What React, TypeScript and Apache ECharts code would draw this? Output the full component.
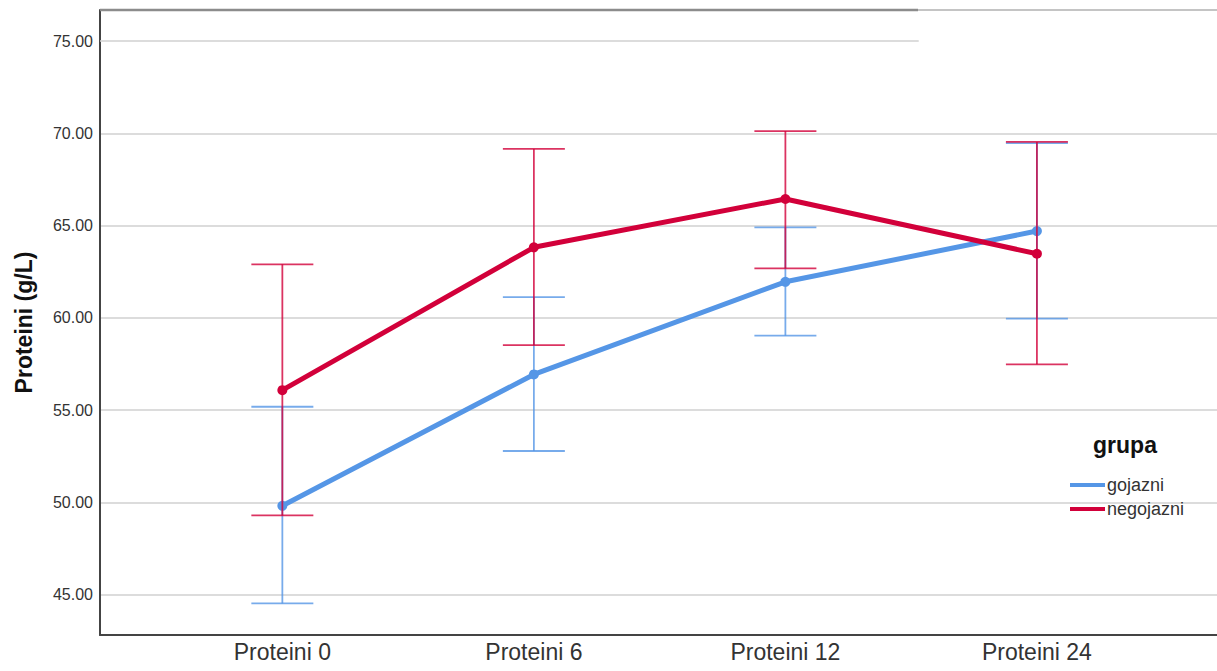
import React, { useEffect, useRef } from "react";
import * as echarts from "echarts";

const categories = ["Proteini 0", "Proteini 6", "Proteini 12", "Proteini 24"];
const yTicks = [45, 50, 55, 60, 65, 70, 75];
const seriesNames = ["gojazni", "negojazni"];

const gojazniMean = [49.81, 56.93, 61.95, 64.7];
const gojazniLow = [44.52, 52.78, 59.03, 59.95];
const gojazniHigh = [55.18, 61.12, 64.9, 69.47];

const negojazniMean = [56.08, 63.82, 66.44, 63.47];
const negojazniLow = [49.29, 58.52, 62.68, 57.48];
const negojazniHigh = [62.9, 69.15, 70.12, 69.53];

const BLUE = "#5596e6";
const RED = "#d2003a";
const FONT = "'Liberation Sans', Arial, sans-serif";

function errorSeries(name: string, low: number[], high: number[], color: string, z: number) {
  return {
    type: "custom",
    name,
    z,
    silent: true,
    data: low.map((l, i) => [i, l, high[i]]),
    encode: { x: 0, y: [1, 2] },
    renderItem: (params: any, api: any) => {
      const x = api.value(0);
      const lo = api.coord([x, api.value(1)]);
      const hi = api.coord([x, api.value(2)]);
      const hw = 31;
      const style = { stroke: color, lineWidth: 1.8, opacity: 0.8 };
      return {
        type: "group",
        children: [
          { type: "line", shape: { x1: lo[0], y1: lo[1], x2: hi[0], y2: hi[1] }, style },
          { type: "line", shape: { x1: hi[0] - hw, y1: hi[1], x2: hi[0] + hw, y2: hi[1] }, style },
          { type: "line", shape: { x1: lo[0] - hw, y1: lo[1], x2: lo[0] + hw, y2: lo[1] }, style },
        ],
      };
    },
  };
}

export default function App() {
  const ref = useRef<HTMLDivElement>(null);
  useEffect(() => {
    if (!ref.current) return;
    const chart = echarts.init(ref.current, undefined, { renderer: "svg" });
    const xMin = -0.725;
    const xMax = 3.716;
    chart.setOption({
      animation: false,
      backgroundColor: "#ffffff",
      textStyle: { fontFamily: FONT },
      grid: { left: 100, right: 0, top: 10, bottom: 36, containLabel: false, outerBoundsMode: "none" },
      xAxis: {
        type: "value",
        min: xMin,
        max: xMax,
        axisLine: { show: true, onZero: false, lineStyle: { color: "#444", width: 2 } },
        axisTick: { show: false },
        splitLine: { show: false },
        axisLabel: {
          customValues: [0, 1, 2, 3],
          formatter: (v: number) => categories[Math.round(v)] ?? "",
          fontSize: 23,
          color: "#333",
          margin: 5,
          fontFamily: FONT,
        },
      },
      yAxis: {
        type: "value",
        min: 42.81,
        max: 76.68,
        name: "Proteini (g/L)",
        nameLocation: "middle",
        nameGap: 65,
        nameTextStyle: { fontSize: 23, fontWeight: "bold", color: "#111", fontFamily: FONT },
        axisLine: { show: true, onZero: false, lineStyle: { color: "#444", width: 2 } },
        axisTick: { show: false, customValues: yTicks.slice(0, 6) },
        splitLine: { show: true, lineStyle: { color: "#d0d0d0", width: 1.6 } },
        axisLabel: {
          customValues: yTicks,
          formatter: (v: number) => v.toFixed(2),
          fontSize: 16,
          color: "#333",
          margin: 7,
          padding: [7, 0, 0, 0],
          fontFamily: FONT,
        },
      },
      legend: {
        data: seriesNames,
        orient: "vertical",
        left: 1065,
        top: 471,
        icon: "rect",
        itemWidth: 35,
        itemHeight: 4,
        itemGap: 6,
        textStyle: { fontSize: 18, color: "#333", fontFamily: FONT, padding: [0, 0, 0, -3] },
      },
      graphic: [
        { type: "line", shape: { x1: 100, y1: 10, x2: 918, y2: 10 }, style: { stroke: "#8c8c8c", lineWidth: 2.5 }, z: 1 },
        { type: "line", shape: { x1: 918, y1: 10, x2: 1217, y2: 10 }, style: { stroke: "#b0b0b0", lineWidth: 1.5 }, z: 1 },
        {
          type: "text",
          x: 1125,
          y: 445,
          style: {
            text: "grupa",
            font: `bold 23px ${FONT}`,
            fill: "#111",
            textAlign: "center",
            textVerticalAlign: "middle",
          },
        },
      ],
      series: [
        {
          type: "line",
          name: "grid75",
          silent: true,
          data: [],
          z: 1,
          markLine: {
            silent: true,
            symbol: "none",
            label: { show: false },
            lineStyle: { color: "#d0d0d0", width: 1.6, type: "solid" },
            data: [[{ coord: [xMin, 75] }, { coord: [2.53, 75] }]],
          },
        },
        errorSeries("gojazni-err", gojazniLow, gojazniHigh, BLUE, 2),
        {
          type: "line",
          name: "gojazni",
          z: 3,
          data: gojazniMean.map((v, i) => [i, v]),
          symbol: "circle",
          symbolSize: 10,
          itemStyle: { color: BLUE },
          lineStyle: { color: BLUE, width: 5 },
        },
        errorSeries("negojazni-err", negojazniLow, negojazniHigh, RED, 4),
        {
          type: "line",
          name: "negojazni",
          z: 5,
          data: negojazniMean.map((v, i) => [i, v]),
          symbol: "circle",
          symbolSize: 10,
          itemStyle: { color: RED },
          lineStyle: { color: RED, width: 5 },
        },
      ],
    });
    return () => chart.dispose();
  }, []);
  return <div ref={ref} style={{ position: "fixed", left: 0, top: 0, width: 1217, height: 671 }} />;
}
